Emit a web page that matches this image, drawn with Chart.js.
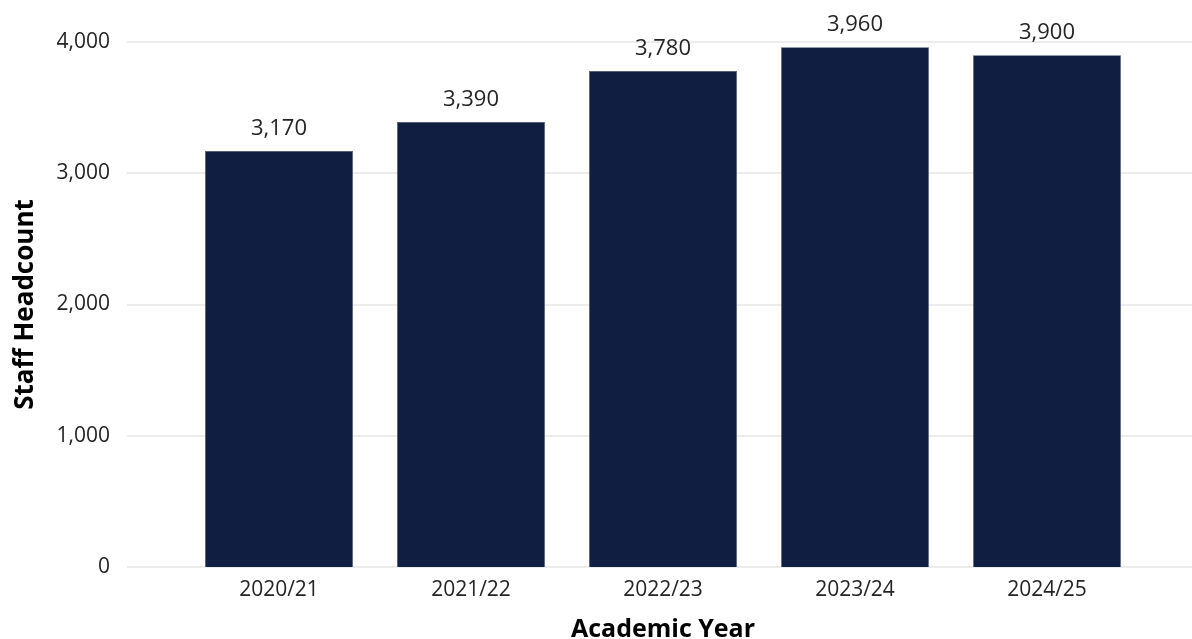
<!DOCTYPE html>
<html>
<head>
<meta charset="utf-8">
<script src="https://cdn.jsdelivr.net/npm/chart.js@4.4.1/dist/chart.umd.min.js"></script>
<style>
  html, body { margin: 0; padding: 0; background: #fff; }
  #wrap { width: 1192px; height: 639px; }
</style>
</head>
<body>
<div id="wrap"><canvas id="myChart"></canvas></div>
<script>
Chart.defaults.font.family = "'Open Sans', 'Noto Sans', sans-serif";
Chart.defaults.color = '#252423';

const years = ['2020/21', '2021/22', '2022/23', '2023/24', '2024/25'];
const headcount = [3170, 3390, 3780, 3960, 3900];
const yTicks = [0, 1000, 2000, 3000, 4000];

const ctx = document.getElementById('myChart');

// gridlines run wider than the bar area, like the original
let wideGrid = {
  id: 'wideGrid',
  beforeDatasetsDraw(chart) {
    let c = chart.ctx, y = chart.scales.y;
    c.save();
    c.strokeStyle = '#ececec';
    c.lineWidth = 2;
    for (let v of yTicks) {
      let py = Math.round(y.getPixelForValue(v));
      c.beginPath();
      c.moveTo(127, py);
      c.lineTo(chart.width, py);
      c.stroke();
    }
    c.restore();
  }
};

// value labels above each bar
let barLabels = {
  id: 'barLabels',
  afterDatasetsDraw(chart) {
    let c = chart.ctx;
    let meta = chart.getDatasetMeta(0);
    c.save();
    c.font = "22px 'Open Sans', sans-serif";
    c.fillStyle = '#252423';
    c.textAlign = 'center';
    c.textBaseline = 'alphabetic';
    meta.data.forEach((bar, i) => {
      c.fillText(headcount[i].toLocaleString('en-US'), bar.x, bar.y - 16);
    });
    c.restore();
  }
};

let config = {
  type: 'bar',
  data: {
    labels: years,
    datasets: [{
      label: 'Staff Headcount',
      data: headcount,
      backgroundColor: '#101f41',
      borderColor: '#3a4766',
      borderWidth: 0.5,
      categoryPercentage: 0.77,
      barPercentage: 1
    }]
  },
  options: {
    responsive: true,
    maintainAspectRatio: false,
    animation: false,
    layout: { padding: { top: 42, right: 49, left: 0, bottom: -6 } },
    plugins: {
      legend: { display: false },
      tooltip: { enabled: false }
    },
    scales: {
      x: {
        grid: { display: false, drawTicks: false },
        border: { display: false },
        ticks: { font: { size: 21 }, padding: 10 },
        title: {
          display: true,
          text: 'Academic Year',
          color: '#000',
          font: { size: 25, weight: 'bold' },
          padding: { top: 0, bottom: 0 }
        },
        afterFit(scale) { scale.height = 78; }
      },
      y: {
        min: 0,
        max: 4000,
        afterBuildTicks(scale) { scale.ticks = yTicks.map(v => ({ value: v })); },
        grid: { display: false, drawTicks: false },
        border: { display: false },
        ticks: {
          font: { size: 21 },
          padding: 73,
          callback: v => v.toLocaleString('en-US')
        },
        title: {
          display: true,
          text: 'Staff Headcount',
          color: '#000',
          font: { size: 26, weight: 'bold' },
          padding: { top: 10, bottom: 0 }
        },
        afterFit(scale) {
          scale.width = 183;
          scale.paddingTop = 0;
          scale.paddingBottom = 0;
        }
      }
    }
  },
  plugins: [wideGrid, barLabels]
};

let bar = new Chart(ctx, config);
</script>
</body>
</html>
